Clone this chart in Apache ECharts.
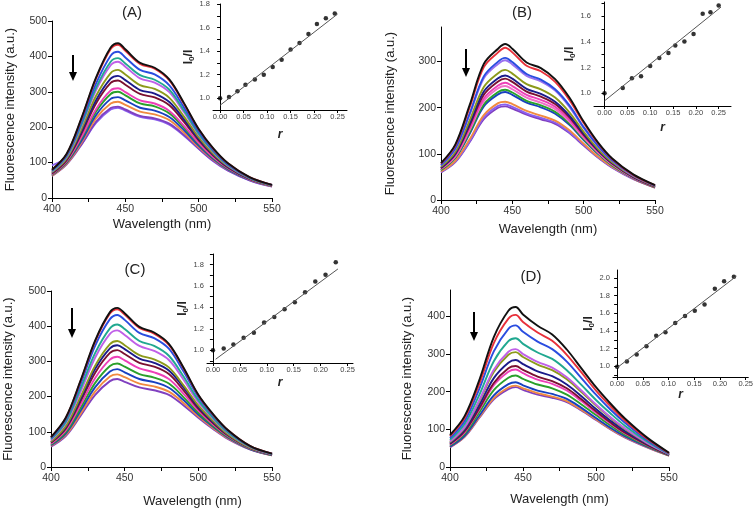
<!DOCTYPE html>
<html><head><meta charset="utf-8">
<script src="https://cdn.jsdelivr.net/npm/echarts@6/dist/echarts.min.js"></script>
<style>html,body{margin:0;padding:0;background:#fff}#c{width:756px;height:510px}</style>
</head><body><div id="c"></div>
<script>
// ---- main spectra: wavelength grid (nm) ----
const wavelengths = [400,410,420,430,440,445,450,460,470,480,490,500,510,520,535,550];

// Panel A spectra (top to bottom)
const specA = [
  [80,125,225,340,425,437,420,382,368,335,268,195,140,98,58,37],
  [80,124,223,337,421,433,416,379,365,332,266,194,139,98,58,37],
  [78,121,215,323,402,413,397,362,349,318,256,188,135,95,57,37],
  [76,118,207,311,385,395,380,347,334,306,247,182,132,93,56,36],
  [75,116,203,304,375,385,371,338,326,299,242,179,130,92,56,36],
  [73,112,194,288,353,362,349,319,308,283,230,172,125,90,55,35],
  [71,110,187,276,337,345,333,305,295,271,222,167,122,88,54,35],
  [69,107,181,267,325,332,320,294,284,262,215,163,120,86,53,35],
  [67,104,172,251,304,310,299,276,267,246,204,156,115,84,52,34],
  [66,102,168,244,294,300,290,267,259,239,199,153,113,83,52,34],
  [65,100,161,234,280,285,276,255,247,229,192,148,110,81,51,34],
  [63,97,156,225,267,272,263,244,236,220,185,144,108,80,51,33],
  [62,95,150,215,254,258,250,232,225,210,178,140,105,78,50,33],
  [92,112,152,212,250,255,247,229,222,207,176,139,104,77,49,32]
];
const colorsA = ['#111111','#e8303a','#2a4de0','#20a890','#c060e8','#8c9a1a','#1a1a8a','#7a1030','#ee3fb8','#2aa02a','#1840c0','#f08a40','#8040c0','#8a60f0'];

// Panel B spectra
const specB = [
  [80,120,205,295,328,338,328,298,286,262,222,170,125,90,55,32],
  [79,118,200,288,320,330,320,291,279,256,217,167,123,89,54,32],
  [76,112,187,268,300,308,299,273,261,240,205,158,118,86,53,31],
  [75,110,184,264,295,303,294,269,257,237,202,156,116,85,52,31],
  [72,104,172,245,275,282,274,251,240,222,190,148,111,82,51,30],
  [70,101,165,235,264,270,263,241,230,213,183,144,108,80,50,30],
  [69,99,161,228,257,263,256,235,224,208,179,141,107,79,49,29],
  [68,96,155,220,248,254,247,228,217,202,174,138,105,78,49,29],
  [67,94,151,214,242,247,240,222,211,197,170,135,103,77,48,29],
  [65,92,146,207,234,239,233,215,205,191,166,132,101,75,48,28],
  [65,91,143,203,229,234,228,211,201,187,163,130,100,75,47,28],
  [62,85,131,184,210,213,208,193,183,172,151,122,94,72,46,27],
  [61,83,127,179,204,207,202,188,178,168,147,120,93,71,45,27],
  [60,82,125,175,200,203,198,185,175,165,145,118,92,70,45,27]
];
const colorsB = ['#111111','#e8303a','#2a4de0','#9a70f0','#8c9a1a','#1a1a8a','#7a1030','#ee3fb8','#f070c8','#2aa02a','#1840c0','#f08a40','#8a60f0','#8040c0'];

// Panel C spectra
const specC = [
  [85,140,245,360,440,452,437,398,382,350,282,205,150,105,60,38],
  [85,139,243,357,436,448,433,395,379,347,280,204,149,105,60,38],
  [82,135,235,345,420,432,418,381,366,336,271,199,146,103,59,38],
  [79,128,222,324,394,405,392,358,344,316,257,190,140,99,58,37],
  [76,124,213,311,378,388,375,344,330,304,248,184,137,97,57,36],
  [72,116,199,288,349,358,346,318,306,283,232,175,131,93,55,36],
  [71,113,193,279,337,346,335,308,296,274,226,171,128,92,55,35],
  [69,109,186,268,324,332,321,296,285,264,218,166,125,90,54,35],
  [66,104,176,253,305,313,303,280,269,250,208,160,121,88,53,35],
  [64,99,167,239,287,294,285,264,254,237,198,154,117,86,52,34],
  [62,95,159,227,271,278,269,250,241,225,190,149,114,84,51,34],
  [60,91,151,215,257,263,255,237,229,214,182,144,111,82,51,33],
  [58,88,145,205,244,250,242,226,218,205,175,140,108,80,50,33]
];
const colorsC = ['#111111','#e8303a','#2a4de0','#20a890','#c060e8','#8c9a1a','#1a1a8a','#7a1030','#ee3fb8','#2aa02a','#1840c0','#f08a40','#8040c0'];

// Panel D spectra
const specD = [
  [85,135,230,345,415,425,405,375,352,312,262,212,168,128,78,38],
  [82,130,220,329,394,404,385,357,335,298,251,203,161,123,75,37],
  [77,122,207,307,367,376,359,333,313,280,236,192,152,117,72,36],
  [72,114,191,281,334,342,327,304,287,257,218,178,142,109,68,35],
  [68,106,177,258,306,313,300,279,264,238,203,166,132,102,64,34],
  [66,104,174,252,298,305,292,272,257,233,199,163,130,100,63,34],
  [63,99,164,236,277,284,273,254,241,219,188,154,123,95,61,33],
  [61,95,156,223,262,268,258,240,228,209,180,148,118,91,59,32],
  [59,92,152,217,253,259,249,232,221,203,175,144,115,89,58,32],
  [57,88,145,204,237,243,234,219,209,192,166,138,110,85,56,31],
  [54,83,136,190,220,225,217,203,194,181,157,130,104,81,54,31],
  [53,81,132,183,211,216,209,196,187,175,152,127,101,79,53,30],
  [52,80,130,180,207,212,205,192,184,172,150,125,100,78,52,30]
];
const colorsD = colorsC;

// ---- inset Stern-Volmer data ----
const rA = [0,0.019,0.037,0.054,0.074,0.093,0.112,0.131,0.15,0.169,0.188,0.206,0.225,0.244];
const ratioA = [1.0,1.011,1.06,1.114,1.16,1.2,1.266,1.326,1.414,1.469,1.546,1.631,1.68,1.72];
const fitA = [[0,0.94],[0.25,1.715]];

const rB = [0,0.04,0.06,0.08,0.10,0.12,0.14,0.155,0.175,0.195,0.215,0.232,0.25];
const ratioB = [1.0,1.04,1.116,1.132,1.212,1.274,1.313,1.372,1.403,1.46,1.618,1.63,1.683];
const fitB = [[0,0.94],[0.255,1.67]];

const rC = [0,0.02,0.038,0.057,0.076,0.095,0.114,0.133,0.152,0.171,0.19,0.209,0.228];
const ratioC = [1.0,1.016,1.053,1.116,1.163,1.26,1.31,1.382,1.448,1.542,1.643,1.705,1.822];
const fitC = [[0.005,0.915],[0.232,1.76]];

const rD = [0,0.019,0.038,0.057,0.076,0.094,0.113,0.132,0.151,0.17,0.19,0.208,0.227];
const ratioD = [0.996,1.056,1.134,1.227,1.346,1.387,1.491,1.569,1.628,1.699,1.877,1.963,2.015];
const fitD = [[0,0.985],[0.232,2.02]];

const xTickLabels = [400,450,500,550];
const xTicks = [400,425,450,475,500,525,550];
const rLabels = [0,0.05,0.1,0.15,0.2,0.25];

const FONT = 'Liberation Sans, Arial, sans-serif';
const chart = echarts.init(document.getElementById('c'), null, {renderer:'canvas'});

const panels = [
  {spec:specA, colors:colorsA, grid:{left:52,top:21,width:220,height:177}, ymax:500, yLabels:[0,100,200,300,400,500], yGap:35, xGap:20, xPad:[0,0,0,0]},
  {spec:specB, colors:colorsB, grid:{left:441,top:27,width:214,height:173}, ymax:375, yLabels:[0,100,200,300], yGap:44, xGap:23, xPad:[0,0,0,0]},
  {spec:specC, colors:colorsC, grid:{left:51,top:291,width:221,height:176}, ymax:500, yLabels:[0,100,200,300,400,500], yGap:36, xGap:28, xPad:[0,0,0,62]},
  {spec:specD, colors:colorsD, grid:{left:450,top:290,width:219,height:177}, ymax:470, yLabels:[0,100,200,300,400], yGap:36, xGap:26, xPad:[0,0,0,0]}
];
const insets = [
  {r:rA, v:ratioA, fit:fitA, grid:{left:213,top:3,width:134,height:107}, xmin:-0.015, xmax:0.27, ymin:0.9, ymax:1.8, yLabels:[1.0,1.2,1.4,1.6,1.8], yTicks:[0.9,1.0,1.1,1.2,1.3,1.4,1.5,1.6,1.7,1.8], nameGapY:13, nameGapX:19},
  {r:rB, v:ratioB, fit:fitB, grid:{left:594,top:2,width:137,height:104}, xmin:-0.023, xmax:0.277, ymin:0.9, ymax:1.71, yLabels:[1.0,1.2,1.4,1.6], yTicks:[0.9,1.0,1.1,1.2,1.3,1.4,1.5,1.6,1.7], nameGapY:12, nameGapX:16},
  {r:rC, v:ratioC, fit:fitC, grid:{left:207,top:254,width:146,height:109}, xmin:-0.011, xmax:0.26, ymin:0.88, ymax:1.9, yLabels:[1.0,1.2,1.4,1.6,1.8], yTicks:[0.9,1.0,1.1,1.2,1.3,1.4,1.5,1.6,1.7,1.8,1.9], nameGapY:6, nameGapX:14},
  {r:rD, v:ratioD, fit:fitD, grid:{left:613,top:270,width:137,height:107}, xmin:-0.008, xmax:0.255, ymin:0.88, ymax:2.09, yLabels:[1.0,1.2,1.4,1.6,1.8,2.0], yTicks:[0.9,1.0,1.1,1.2,1.3,1.4,1.5,1.6,1.7,1.8,1.9,2.0], nameGapY:15, nameGapX:11}
];

const grids = [], xAxes = [], yAxes = [], series = [];
const axisLineStyle = {lineStyle:{color:'#000', width:1}};

panels.forEach((p, i) => {
  grids.push(Object.assign({containLabel:false}, p.grid));
  xAxes.push({
    type:'value', gridIndex:i, min:400, max:550,
    axisLine:axisLineStyle,
    axisTick:{show:true, length:4, customValues:xTicks, lineStyle:{color:'#000'}},
    axisLabel:{customValues:xTickLabels, fontSize:10.5, color:'#333', fontFamily:FONT, margin:6},
    splitLine:{show:false},
    name:'Wavelength (nm)', nameLocation:'middle', nameGap:p.xGap,
    nameTextStyle:{fontSize:13, color:'#222', fontFamily:FONT, padding:p.xPad}
  });
  yAxes.push({
    type:'value', gridIndex:i, min:0, max:p.ymax,
    axisLine:Object.assign({show:true}, axisLineStyle),
    axisTick:{show:true, length:4, customValues:p.yLabels, lineStyle:{color:'#000'}},
    axisLabel:{customValues:p.yLabels, fontSize:10.5, color:'#333', fontFamily:FONT, margin:5},
    splitLine:{show:false},
    name:'Fluorescence intensity (a.u.)', nameLocation:'middle', nameGap:p.yGap,
    nameTextStyle:{fontSize:13, color:'#222', fontFamily:FONT}
  });
  for (let k = p.spec.length - 1; k >= 0; k--) {
    series.push({
      type:'line', xAxisIndex:i, yAxisIndex:i, silent:true,
      data: wavelengths.map((w, j) => [w, p.spec[k][j]]),
      smooth:0.35, showSymbol:false, symbol:'none',
      lineStyle:{color:p.colors[k], width:1.9}
    });
  }
});

insets.forEach((q, n) => {
  const i = n + 4;
  grids.push(Object.assign({containLabel:false}, q.grid));
  xAxes.push({
    type:'value', gridIndex:i, min:q.xmin, max:q.xmax,
    axisLine:axisLineStyle,
    axisTick:{show:true, length:3, customValues:rLabels, lineStyle:{color:'#000'}},
    axisLabel:{customValues:rLabels, fontSize:7.5, color:'#444', fontFamily:FONT, margin:3, formatter:v => v.toFixed(2)},
    splitLine:{show:false},
    name:'r', nameLocation:'middle', nameGap:q.nameGapX,
    nameTextStyle:{fontSize:12, fontStyle:'italic', fontWeight:'bold', color:'#222', fontFamily:FONT}
  });
  yAxes.push({
    type:'value', gridIndex:i, min:q.ymin, max:q.ymax,
    axisLine:Object.assign({show:true}, axisLineStyle),
    axisTick:{show:true, length:3, customValues:q.yTicks, lineStyle:{color:'#000'}},
    axisLabel:{customValues:q.yLabels, fontSize:7.5, color:'#444', fontFamily:FONT, margin:3, formatter:v => v.toFixed(1)},
    splitLine:{show:false},
    name:'{b|I}{s|0}{b|/I}', nameLocation:'middle', nameGap:q.nameGapY,
    nameTextStyle:{color:'#222', fontFamily:FONT, rich:{
      b:{fontSize:12, fontWeight:'bold', color:'#222', fontFamily:FONT},
      s:{fontSize:8, fontWeight:'bold', color:'#222', fontFamily:FONT, padding:[5,0,0,0]}
    }}
  });
  series.push({
    type:'line', xAxisIndex:i, yAxisIndex:i, silent:true,
    data:q.fit, showSymbol:false, symbol:'none',
    lineStyle:{color:'#555', width:1}
  });
  series.push({
    type:'scatter', xAxisIndex:i, yAxisIndex:i, silent:true,
    data:q.r.map((r, j) => [r, q.v[j]]),
    symbol:'circle', symbolSize:4.5, itemStyle:{color:'#000'}
  });
});

function arrow(x, y1, y2) {
  return [
    {type:'line', silent:true, shape:{x1:x, y1:y1, x2:x, y2:y2 - 7}, style:{stroke:'#000', lineWidth:2}},
    {type:'polygon', silent:true, shape:{points:[[x - 4, y2 - 9], [x + 4, y2 - 9], [x, y2]]}, style:{fill:'#000'}}
  ];
}
function title(t, x, y) {
  return {type:'text', silent:true, x:x, y:y, style:{text:t, fontSize:15, fontFamily:FONT, fill:'#222', align:'center', verticalAlign:'middle'}};
}

const graphic = [].concat(
  arrow(73, 55, 81), arrow(466, 49, 77), arrow(72, 308, 338), arrow(474, 312, 341),
  [title('(A)', 132, 13), title('(B)', 522, 13), title('(C)', 135, 270), title('(D)', 531, 277)]
);

chart.setOption({
  animation:false,
  backgroundColor:'#fff',
  grid:grids, xAxis:xAxes, yAxis:yAxes, series:series, graphic:graphic
});
</script></body></html>
